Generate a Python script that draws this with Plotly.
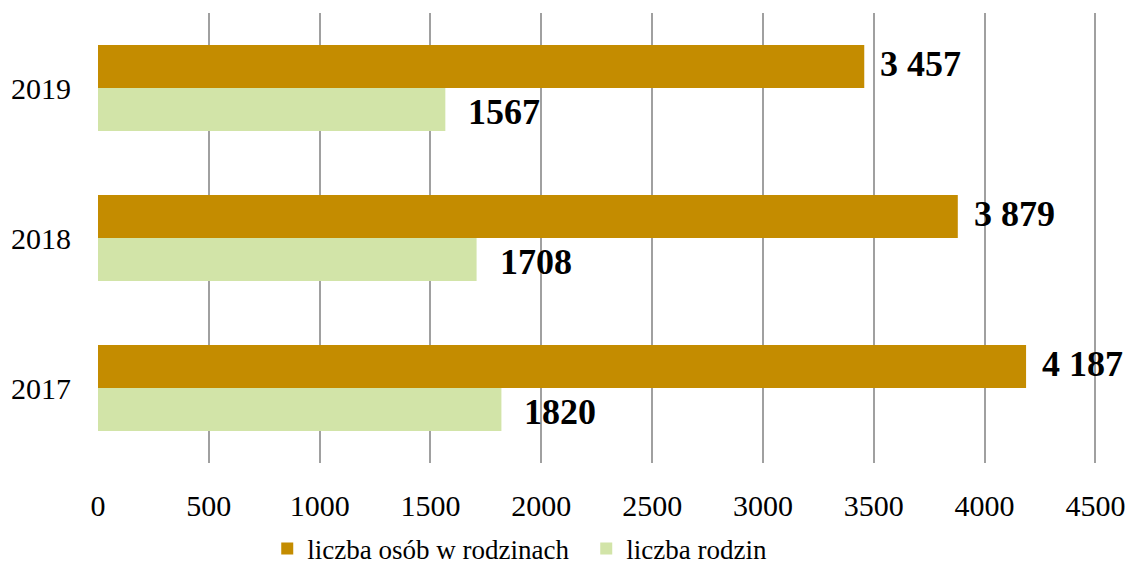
import plotly.graph_objects as go

years = ["2017", "2018", "2019"]
osoby = [4187, 3879, 3457]
rodziny = [1820, 1708, 1567]
osoby_name = "liczba osób w rodzinach"
rodziny_name = "liczba rodzin"
x_ticks = [0, 500, 1000, 1500, 2000, 2500, 3000, 3500, 4000, 4500]

GOLD = "#C48C00"
GREEN = "#D2E4A8"
FONT = "Liberation Serif"

fig = go.Figure()
fig.add_trace(go.Bar(y=years, x=rodziny, name=rodziny_name, orientation="h",
                     marker=dict(color=GREEN, line=dict(width=0))))
fig.add_trace(go.Bar(y=years, x=osoby, name=osoby_name, orientation="h",
                     marker=dict(color=GOLD, line=dict(width=0))))

def fmt_space(v):
    return f"{v:,}".replace(",", " ")

ann = []
for i, v in enumerate(osoby):
    ann.append(dict(x=v, y=i, xref="x", yref="y", text="<b>" + fmt_space(v) + "</b>",
                    showarrow=False, xanchor="left", yanchor="middle", xshift=14, yshift=24,
                    font=dict(family=FONT, size=36, color="black")))
for i, v in enumerate(rodziny):
    ann.append(dict(x=v, y=i, xref="x", yref="y", text="<b>" + str(v) + "</b>",
                    showarrow=False, xanchor="left", yanchor="middle", xshift=21, yshift=-24,
                    font=dict(family=FONT, size=36, color="black")))

fig.update_layout(
    width=1130, height=563,
    margin=dict(l=98, r=33, t=13, b=100, autoexpand=False),
    paper_bgcolor="white", plot_bgcolor="white",
    barmode="group", bargap=0.427, bargroupgap=0,
    font=dict(family=FONT, size=30, color="black"),
    showlegend=True,
    legend=dict(orientation="h", traceorder="reversed",
                xref="container", x=0.2365, xanchor="left",
                yref="container", y=0.025, yanchor="middle",
                font=dict(family=FONT, size=27, color="black"),
                itemwidth=30, entrywidth=274, entrywidthmode="pixels"),
    annotations=ann,
    xaxis=dict(range=[0, 4507], tickvals=x_ticks, ticktext=[str(t) for t in x_ticks],
               showgrid=True, gridcolor="#A0A0A0", gridwidth=2, zeroline=False,
               showline=False, ticks="", ticklabelstandoff=22,
               tickfont=dict(family=FONT, size=30)),
    yaxis=dict(type="category", categoryorder="array", categoryarray=years, range=[-0.5, 2.5],
               showgrid=False, zeroline=False, showline=False, ticks="",
               ticklabelstandoff=26, tickfont=dict(family=FONT, size=30)),
)

fig.write_html(
    "out.html",
    config={"displayModeBar": False},
    post_script="document.body.style.margin='0';document.body.style.overflow='hidden';",
)
